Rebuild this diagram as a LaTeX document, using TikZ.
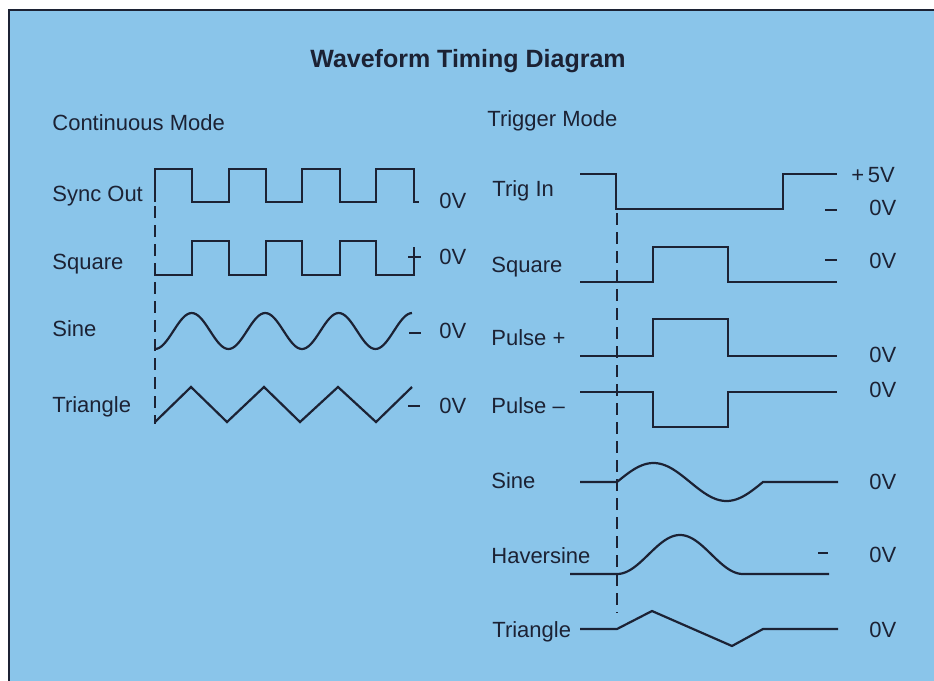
\documentclass[tikz,border=0pt]{standalone}
\usepackage{fontspec}
\setmainfont{Liberation Sans}
\definecolor{panel}{RGB}{138,197,234}
\definecolor{ink}{RGB}{28,34,52}

\begin{document}
\begin{tikzpicture}[x=0.5pt,y=-0.5pt,
  wave/.style={ink,line width=1.1pt},
  zeromark/.style={ink,line width=0.9pt},
  startline/.style={ink,line width=1pt,dash pattern=on 6pt off 3.5pt},
  lbl/.style={anchor=base west,inner sep=0pt,text=ink,font=\fontsize{11}{13}\selectfont}]
  \useasboundingbox (0,0) rectangle (934,681);
  \fill[panel] (9,10) rectangle (934,681);
  \draw[ink,line width=1.2pt] (9,681) -- (9,10) -- (934,10);

  \node[anchor=base,inner sep=0pt,text=ink,font=\bfseries\fontsize{12.5}{15}\selectfont]
    (title) at (468,67) {Waveform Timing Diagram};
  \node[lbl] (contmode) at (52,130) {Continuous Mode};
  \node[lbl] (trigmode) at (487,126) {Trigger Mode};

  % Continuous mode: four periods of each waveform.
  \draw[wave] (155,202) -- (155,169) -- (192,169) -- (192,202) -- (229,202) -- (229,169)
    -- (266,169) -- (266,202) -- (302,202) -- (302,169) -- (340,169) -- (340,202)
    -- (376,202) -- (376,169) -- (414,169) -- (414,202) -- (419,202);
  \draw[wave] (154,275) -- (192,275) -- (192,241) -- (229,241) -- (229,275) -- (266,275)
    -- (266,241) -- (302,241) -- (302,275) -- (340,275) -- (340,241) -- (376,241)
    -- (376,275) -- (414,275) -- (414,247);
  \draw[wave,domain=155:412,samples=120] plot (\x,{331+18*cos((\x-155)/73.5*360)});
  \draw[wave] (155,422) -- (191,387) -- (227,422) -- (264,387) -- (300,422)
    -- (338,387) -- (376,422) -- (412,387);
  \draw[startline] (155,206) -- (155,424);

  \draw[zeromark] (408,257) -- (421,257);
  \draw[zeromark] (409,333) -- (421,333);
  \draw[zeromark] (408,406) -- (420,406);

  \node[lbl] (syncout) at (52,201) {Sync Out};
  \node[lbl] (squareC) at (52,269) {Square};
  \node[lbl] (sineC) at (52,336) {Sine};
  \node[lbl] (triangleC) at (52,412) {Triangle};
  \foreach \y [count=\i] in {208,264,338,413}
    \node[lbl] (zeroC\i) at (439,\y) {0V};

  % Trigger mode: one cycle after the falling edge of Trig In.
  \draw[wave] (580,174) -- (616,174) -- (616,209) -- (783,209) -- (783,174) -- (837,174);
  \draw[wave] (580,282) -- (653,282) -- (653,247) -- (728,247) -- (728,282) -- (837,282);
  \draw[wave] (580,356) -- (653,356) -- (653,319) -- (728,319) -- (728,356) -- (837,356);
  \draw[wave] (580,392) -- (653,392) -- (653,427) -- (728,427) -- (728,392) -- (837,392);
  \draw[wave] (580,482) -- (617,482)
    -- plot[domain=617:763,samples=80] (\x,{482-19*sin((\x-617)/146*360)}) -- (838,482);
  \draw[wave] (570,574) -- (617,574)
    -- plot[domain=617:743,samples=80] (\x,{574-19.5*(1-cos((\x-617)/126*360))}) -- (829,574);
  \draw[wave] (580,629) -- (617,629) -- (652,611) -- (732,646) -- (763,629) -- (838,629);
  \draw[startline] (617,213) -- (617,613);

  \draw[zeromark] (825,210) -- (837,210);
  \draw[zeromark] (825,260) -- (837,260);
  \draw[zeromark] (818,553) -- (828,553);

  \node[lbl] (trigin) at (492,196) {Trig In};
  \node[lbl] (squareT) at (491,272) {Square};
  \node[lbl] (pulsepos) at (491,345) {Pulse~+};
  \node[lbl] (pulseneg) at (491,413) {Pulse~--};
  \node[lbl] (sineT) at (491,488) {Sine};
  \node[lbl] (haversine) at (491,563) {Haversine};
  \node[lbl] (triangleT) at (492,637) {Triangle};
  \node[lbl] (fivevolt) at (851,182) {+\,5V};
  \foreach \y [count=\i] in {215,268,362,397,489,562,637}
    \node[lbl] (zeroT\i) at (869,\y) {0V};
\end{tikzpicture}
\end{document}
